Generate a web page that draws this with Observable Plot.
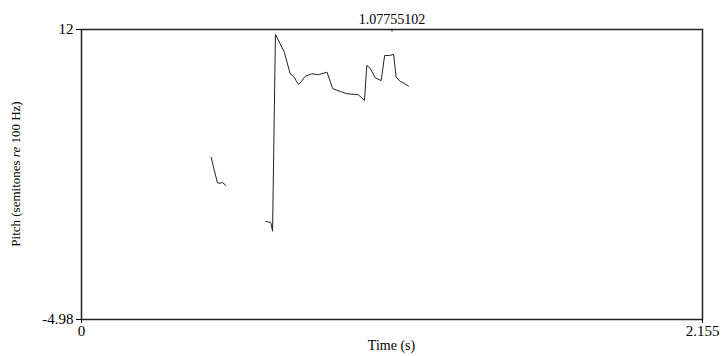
<!DOCTYPE html>
<html><head><meta charset="utf-8">
<script src="https://cdn.jsdelivr.net/npm/d3@7"></script>
<script src="https://cdn.jsdelivr.net/npm/@observablehq/plot@0.6"></script>
<style>body{margin:0;background:#fff;} svg{display:block;}</style>
</head><body><div id="chart"></div>
<script>
const xDomain = [0, 2.155];
const yDomain = [-4.98, 12];
const xTicks = [0, 2.155];
const xTickLabels = ["0", "2.155"];
const yTicks = [12, -4.98];
const yTickLabels = ["12", "-4.98"];
const cursorTime = 1.07755102;
const cursorLabel = "1.07755102";
const xTitle = "Time (s)";

const seg1Time  = [0.450, 0.460, 0.472, 0.481, 0.489, 0.501];
const seg1Pitch = [4.51, 3.80, 3.02, 3.00, 3.04, 2.87];

const seg2Time  = [0.640, 0.657, 0.663, 0.673, 0.704, 0.724, 0.736, 0.753, 0.761, 0.776, 0.799, 0.822, 0.852, 0.872, 0.898, 0.921, 0.961, 0.982, 0.990, 1.002, 1.019, 1.040, 1.052, 1.069, 1.083, 1.092, 1.106, 1.118, 1.135];
const seg2Pitch = [0.76, 0.70, 0.19, 11.71, 10.67, 9.41, 9.25, 8.78, 8.91, 9.25, 9.41, 9.35, 9.50, 8.53, 8.37, 8.24, 8.18, 7.84, 9.89, 9.73, 9.17, 9.01, 10.48, 10.48, 10.54, 9.21, 8.96, 8.86, 8.68];

const data = [
  ...seg1Time.map((t, i) => ({t, v: seg1Pitch[i], seg: 1})),
  ...seg2Time.map((t, i) => ({t, v: seg2Pitch[i], seg: 2}))
];

const W = 721, H = 356, ML = 81, MR = 19, MT = 29, MB = 37;

const chart = Plot.plot({
  width: W, height: H,
  marginLeft: ML, marginRight: MR, marginTop: MT, marginBottom: MB,
  style: {fontFamily: "'Liberation Serif','Times New Roman',serif", fontSize: "14px", color: "#000", background: "#fff"},
  x: {domain: xDomain},
  y: {domain: yDomain},
  marks: [
    Plot.frame({stroke: "#222", strokeWidth: 1.5}),
    Plot.axisY({ticks: yTicks, tickFormat: d => yTickLabels[yTicks.indexOf(d)], tickSize: 5, tickPadding: 3, fontSize: 15, label: null}),
    Plot.axisX({ticks: xTicks, tickFormat: d => xTickLabels[xTicks.indexOf(d)], tickSize: 4, tickPadding: 2, fontSize: 15, label: null}),
    Plot.axisX({anchor: "top", ticks: [cursorTime], tickFormat: () => cursorLabel, tickSize: 0, tickPadding: 6, label: null}),
    Plot.ruleX([cursorTime], {y1: 12, y2: 11.85, stroke: "#000"}),
    Plot.line(data, {x: "t", y: "v", z: "seg", stroke: "#222", strokeWidth: 1})
  ]
});

const svg = d3.select(chart);
svg.append("text")
  .attr("x", (ML + W - MR) / 2).attr("y", 350)
  .attr("text-anchor", "middle")
  .attr("font-size", 14)
  .attr("fill", "#000")
  .text(xTitle);
const yl = svg.append("text")
  .attr("transform", `translate(20,${(MT + H - MB) / 2}) rotate(-90)`)
  .attr("text-anchor", "middle")
  .attr("font-size", 13)
  .attr("fill", "#000");
yl.append("tspan").text("Pitch (semitones ");
yl.append("tspan").attr("font-style", "italic").text("re");
yl.append("tspan").text(" 100 Hz)");

document.getElementById("chart").appendChild(chart);
</script>
</body></html>
